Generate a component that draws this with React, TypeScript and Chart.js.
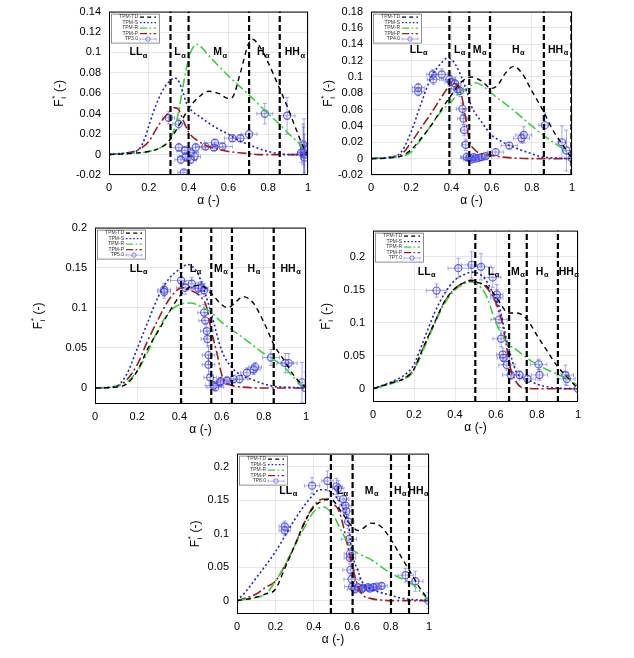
import React, { useEffect, useRef } from 'react';
import { Chart, registerables } from 'chart.js';
Chart.register(...registerables);

const FONT = '"Liberation Sans", Arial, sans-serif';
const X_TICKS = [0, 0.2, 0.4, 0.6, 0.8, 1];
const LEG_NAMES = ['TPM-TD', 'TPM-S', 'TPM-R', 'TPM-P'];
const REGION_NAMES = ['LL', 'L', 'M', 'H', 'HH'];

// ---------- Panel 1 : TP3.0 ----------
const Y1_TICKS = [-0.02, 0, 0.02, 0.04, 0.06, 0.08, 0.1, 0.12, 0.14];
const TD1 = [[0,0],[0.1,0.001],[0.2,0.003],[0.25,0.006],[0.3,0.013],[0.35,0.028],[0.4,0.045],[0.45,0.056],[0.5,0.062],[0.55,0.06],[0.6,0.055],[0.62,0.056],[0.66,0.08],[0.7,0.108],[0.72,0.113],[0.76,0.105],[0.8,0.09],[0.85,0.068],[0.9,0.045],[0.95,0.02],[0.98,0.006],[1,0]];
const S1 = [[0,0],[0.1,0.002],[0.15,0.005],[0.18,0.016],[0.2,0.028],[0.22,0.04],[0.25,0.055],[0.28,0.066],[0.3,0.071],[0.33,0.075],[0.35,0.072],[0.37,0.062],[0.39,0.05],[0.42,0.042],[0.45,0.038],[0.5,0.031],[0.55,0.025],[0.6,0.02],[0.65,0.014],[0.7,0.01],[0.75,0.006],[0.8,0.003],[0.85,0.001],[0.9,0],[1,0]];
const R1 = [[0,0],[0.1,0.001],[0.2,0.003],[0.25,0.006],[0.3,0.013],[0.33,0.026],[0.35,0.042],[0.37,0.065],[0.39,0.085],[0.41,0.1],[0.44,0.108],[0.5,0.097],[0.6,0.077],[0.7,0.059],[0.8,0.04],[0.85,0.031],[0.9,0.021],[0.95,0.012],[0.98,0.006],[1,0.004]];
const PP1 = [[0,0],[0.1,0.002],[0.15,0.005],[0.2,0.013],[0.25,0.029],[0.3,0.041],[0.33,0.046],[0.35,0.044],[0.37,0.035],[0.4,0.022],[0.45,0.013],[0.5,0.008],[0.55,0.005],[0.6,0.003],[0.7,0.001],[0.75,0],[1,0]];
const PTS1 = [[0.30,0.036,0.03,0.006],[0.35,0.030,0.03,0.005],[0.351,0.007,0.04,0.004],[0.381,0.004,0.04,0.004],[0.41,0.002,0.04,0.004],[0.436,0.007,0.03,0.004],[0.361,-0.005,0.03,0.004],[0.386,-0.0025,0.04,0.004],[0.41,-0.005,0.03,0.004],[0.43,-0.002,0.03,0.004],[0.376,-0.0175,0.03,0.002],[0.485,0.0078,0.05,0.003],[0.532,0.0116,0.05,0.003],[0.528,0.0069,0.05,0.003],[0.57,0.0078,0.05,0.003],[0.62,0.016,0.04,0.003],[0.66,0.016,0.04,0.003],[0.704,0.02,0.04,0.004],[0.783,0.04,0.04,0.01],[0.895,0.038,0.04,0.018],[0.975,0.01,0.01,0.02],[0.978,0.002,0.02,0.025],[0.983,0,0.01,0.02],[0.967,0.002,0.02,0.01],[0.983,-0.003,0.02,0.015],[0.98,0.005,0.01,0.03]];
const VL1 = [0.309, 0.4, 0.704, 0.858];
const RX1 = [0.147, 0.356, 0.557, 0.774, 0.933];

// ---------- Panel 2 : TP4.0 ----------
const Y2_TICKS = [-0.02, 0, 0.02, 0.04, 0.06, 0.08, 0.1, 0.12, 0.14, 0.16, 0.18];
const TD2 = [[0,0],[0.1,0.001],[0.15,0.003],[0.2,0.011],[0.25,0.025],[0.3,0.041],[0.35,0.06],[0.4,0.078],[0.45,0.094],[0.5,0.1],[0.55,0.095],[0.6,0.086],[0.63,0.09],[0.67,0.105],[0.71,0.113],[0.75,0.105],[0.8,0.083],[0.86,0.057],[0.9,0.037],[0.95,0.018],[1,0]];
const S2 = [[0,0],[0.1,0.002],[0.15,0.008],[0.2,0.033],[0.25,0.068],[0.3,0.1],[0.35,0.117],[0.38,0.123],[0.41,0.119],[0.45,0.1],[0.48,0.08],[0.5,0.064],[0.55,0.045],[0.6,0.029],[0.65,0.021],[0.7,0.015],[0.8,0.006],[0.85,0.002],[0.9,0.001],[1,0]];
const R2 = [[0,0],[0.1,0.002],[0.15,0.003],[0.2,0.008],[0.25,0.024],[0.3,0.041],[0.35,0.058],[0.4,0.07],[0.45,0.083],[0.48,0.086],[0.5,0.09],[0.52,0.093],[0.55,0.09],[0.6,0.08],[0.7,0.061],[0.8,0.04],[0.9,0.021],[0.95,0.013],[0.97,0.009],[1,0]];
const PP2 = [[0,0],[0.1,0.002],[0.15,0.005],[0.2,0.02],[0.25,0.038],[0.3,0.056],[0.35,0.075],[0.38,0.086],[0.41,0.092],[0.43,0.09],[0.45,0.078],[0.47,0.05],[0.49,0.022],[0.52,0.01],[0.55,0.006],[0.6,0.004],[0.65,0.002],[0.7,0.001],[0.8,0],[1,0]];
const PTS2 = [[0.235,0.087,0.03,0.005],[0.235,0.082,0.03,0.005],[0.307,0.103,0.03,0.006],[0.31,0.097,0.03,0.006],[0.352,0.103,0.03,0.007],[0.39,0.097,0.03,0.008],[0.398,0.094,0.03,0.008],[0.418,0.092,0.03,0.008],[0.43,0.085,0.03,0.007],[0.443,0.083,0.03,0.007],[0.455,0.061,0.03,0.007],[0.46,0.049,0.03,0.007],[0.464,0.035,0.02,0.007],[0.471,0.017,0.02,0.007],[0.476,0.002,0.03,0.005],[0.49,0.001,0.04,0.004],[0.5,-0.001,0.04,0.003],[0.51,0.002,0.04,0.003],[0.52,0,0.04,0.003],[0.535,0.001,0.04,0.003],[0.55,0.002,0.03,0.003],[0.57,0.003,0.03,0.003],[0.62,0.008,0.04,0.004],[0.688,0.016,0.04,0.004],[0.749,0.025,0.04,0.006],[0.76,0.029,0.04,0.01],[0.865,0.041,0.03,0.015],[0.95,0.02,0.02,0.02],[0.972,0.01,0.02,0.025],[1.0,0,0.02,0.01]];
const VL2 = [0.39, 0.489, 0.592, 0.86, 0.997];
const RX2 = [0.236, 0.44, 0.539, 0.732, 0.93];

// ---------- Panel 3 : TP5.0 ----------
const Y3_TICKS = [0, 0.05, 0.1, 0.15, 0.2];
const TD3 = [[0,0],[0.1,0.001],[0.15,0.005],[0.2,0.021],[0.25,0.049],[0.3,0.071],[0.35,0.094],[0.4,0.114],[0.45,0.126],[0.5,0.128],[0.55,0.118],[0.6,0.104],[0.63,0.1],[0.67,0.108],[0.7,0.114],[0.75,0.106],[0.8,0.082],[0.85,0.053],[0.9,0.033],[0.95,0.013],[1,0]];
const S3 = [[0,0],[0.1,0.002],[0.15,0.017],[0.2,0.049],[0.25,0.082],[0.3,0.114],[0.35,0.136],[0.4,0.148],[0.44,0.154],[0.48,0.146],[0.5,0.135],[0.55,0.094],[0.6,0.047],[0.65,0.025],[0.7,0.015],[0.75,0.01],[0.8,0.005],[0.85,0.002],[0.9,0.001],[1,0]];
const R3 = [[0,0],[0.1,0.002],[0.15,0.007],[0.2,0.021],[0.25,0.045],[0.3,0.073],[0.35,0.094],[0.4,0.104],[0.45,0.106],[0.5,0.102],[0.55,0.094],[0.6,0.082],[0.7,0.063],[0.8,0.043],[0.85,0.035],[0.9,0.025],[0.95,0.011],[0.98,0.004],[1,0]];
const PP3 = [[0,0],[0.1,0.002],[0.15,0.01],[0.2,0.029],[0.25,0.059],[0.3,0.086],[0.35,0.11],[0.4,0.124],[0.42,0.125],[0.45,0.122],[0.5,0.114],[0.53,0.1],[0.55,0.073],[0.58,0.041],[0.6,0.017],[0.62,0.007],[0.65,0.003],[0.7,0.001],[0.8,0],[1,0]];
const PTS3 = [[0.328,0.1225,0.03,0.008],[0.328,0.12,0.03,0.008],[0.408,0.134,0.05,0.01],[0.427,0.125,0.04,0.008],[0.459,0.13,0.04,0.008],[0.49,0.124,0.04,0.008],[0.506,0.125,0.03,0.008],[0.517,0.122,0.03,0.008],[0.517,0.094,0.03,0.01],[0.522,0.084,0.03,0.01],[0.53,0.071,0.03,0.01],[0.533,0.061,0.03,0.01],[0.538,0.041,0.03,0.012],[0.538,0.029,0.03,0.012],[0.546,0.013,0.03,0.008],[0.562,0.003,0.04,0.005],[0.57,0.001,0.04,0.005],[0.593,0.007,0.04,0.005],[0.595,0.0085,0.05,0.005],[0.625,0.009,0.04,0.005],[0.657,0.011,0.04,0.005],[0.685,0.011,0.04,0.005],[0.72,0.019,0.03,0.006],[0.752,0.023,0.03,0.006],[0.759,0.026,0.03,0.006],[0.834,0.038,0.04,0.01],[0.902,0.031,0.04,0.012],[0.918,0.031,0.04,0.012],[0.981,0.007,0.02,0.025],[0.997,0,0.01,0.02]];
const VL3 = [0.408, 0.551, 0.649, 0.847];
const RX3 = [0.206, 0.475, 0.596, 0.752, 0.926];

// ---------- Panel 4 : TP7.0 ----------
const Y4_TICKS = [0, 0.05, 0.1, 0.15, 0.2];
const TD4 = [[0,0],[0.1,0.01],[0.15,0.015],[0.18,0.022],[0.2,0.03],[0.25,0.066],[0.3,0.1],[0.35,0.133],[0.4,0.152],[0.45,0.162],[0.48,0.164],[0.5,0.162],[0.55,0.157],[0.6,0.14],[0.63,0.125],[0.66,0.115],[0.7,0.115],[0.75,0.106],[0.8,0.081],[0.85,0.057],[0.9,0.034],[0.95,0.017],[1,0]];
const S4 = [[0,0],[0.1,0.012],[0.15,0.02],[0.18,0.028],[0.2,0.037],[0.25,0.076],[0.3,0.115],[0.35,0.145],[0.4,0.165],[0.45,0.174],[0.48,0.177],[0.52,0.174],[0.55,0.165],[0.6,0.135],[0.62,0.12],[0.65,0.076],[0.68,0.042],[0.7,0.025],[0.75,0.015],[0.8,0.007],[0.85,0.003],[0.9,0.001],[1,0]];
const R4 = [[0,0],[0.1,0.009],[0.15,0.015],[0.18,0.02],[0.2,0.028],[0.25,0.062],[0.3,0.098],[0.35,0.13],[0.4,0.15],[0.45,0.16],[0.47,0.162],[0.5,0.16],[0.55,0.143],[0.6,0.1],[0.65,0.071],[0.7,0.059],[0.75,0.047],[0.8,0.037],[0.85,0.029],[0.9,0.022],[0.95,0.015],[1,0.005]];
const PP4 = [[0,0],[0.1,0.01],[0.15,0.016],[0.18,0.022],[0.2,0.03],[0.25,0.065],[0.3,0.1],[0.35,0.132],[0.4,0.152],[0.45,0.162],[0.48,0.165],[0.52,0.16],[0.55,0.155],[0.6,0.13],[0.63,0.1],[0.65,0.066],[0.67,0.032],[0.7,0.01],[0.72,0.003],[0.75,0.001],[0.8,0],[1,0]];
const PTS4 = [[0.31,0.149,0.05,0.01],[0.416,0.183,0.05,0.015],[0.481,0.188,0.05,0.02],[0.527,0.185,0.05,0.02],[0.584,0.169,0.04,0.015],[0.604,0.143,0.03,0.015],[0.604,0.138,0.03,0.012],[0.615,0.105,0.04,0.012],[0.625,0.076,0.04,0.012],[0.633,0.052,0.03,0.01],[0.636,0.047,0.03,0.01],[0.653,0.036,0.04,0.008],[0.672,0.021,0.04,0.007],[0.715,0.021,0.04,0.006],[0.754,0.015,0.04,0.005],[0.808,0.037,0.04,0.008],[0.812,0.021,0.04,0.008],[0.938,0.021,0.04,0.015],[0.946,0.015,0.04,0.01],[1.0,0,0.02,0.005]];
const VL4 = [0.499, 0.664, 0.75, 0.902];
const RX4 = [0.261, 0.587, 0.706, 0.824, 0.954];

// ---------- Panel 5 : TP8.0 ----------
const Y5_TICKS = [0, 0.05, 0.1, 0.15, 0.2];
const TD5 = [[0,0],[0.1,0.005],[0.15,0.01],[0.2,0.017],[0.25,0.049],[0.3,0.082],[0.35,0.116],[0.4,0.14],[0.45,0.15],[0.48,0.152],[0.5,0.15],[0.55,0.13],[0.6,0.111],[0.63,0.105],[0.65,0.107],[0.7,0.116],[0.75,0.111],[0.8,0.092],[0.85,0.068],[0.9,0.044],[0.95,0.02],[1,0]];
const S5 = [[0,0],[0.05,0.015],[0.1,0.034],[0.15,0.053],[0.2,0.073],[0.25,0.097],[0.3,0.121],[0.35,0.142],[0.4,0.159],[0.43,0.166],[0.46,0.166],[0.5,0.16],[0.55,0.14],[0.58,0.115],[0.6,0.07],[0.63,0.045],[0.65,0.029],[0.7,0.017],[0.75,0.012],[0.8,0.008],[0.85,0.004],[0.9,0.002],[1,0]];
const R5 = [[0,0],[0.1,0.005],[0.15,0.01],[0.2,0.029],[0.25,0.053],[0.3,0.082],[0.35,0.109],[0.4,0.133],[0.45,0.14],[0.5,0.128],[0.55,0.101],[0.6,0.077],[0.65,0.068],[0.7,0.061],[0.75,0.051],[0.8,0.041],[0.85,0.034],[0.9,0.027],[0.95,0.015],[1,0]];
const PP5 = [[0,0],[0.1,0.01],[0.15,0.02],[0.2,0.029],[0.25,0.053],[0.3,0.082],[0.35,0.116],[0.4,0.142],[0.45,0.152],[0.5,0.145],[0.53,0.135],[0.55,0.116],[0.58,0.077],[0.6,0.053],[0.62,0.03],[0.65,0.01],[0.7,0.003],[0.75,0.001],[0.8,0],[1,0]];
const PTS5 = [[0.249,0.111,0.03,0.008],[0.249,0.105,0.03,0.008],[0.391,0.172,0.04,0.012],[0.471,0.179,0.03,0.015],[0.518,0.171,0.03,0.012],[0.527,0.168,0.03,0.012],[0.553,0.152,0.03,0.01],[0.565,0.142,0.03,0.01],[0.57,0.134,0.03,0.01],[0.579,0.118,0.03,0.01],[0.583,0.092,0.04,0.01],[0.588,0.07,0.03,0.008],[0.588,0.064,0.03,0.008],[0.591,0.046,0.04,0.008],[0.597,0.032,0.04,0.006],[0.6,0.021,0.04,0.004],[0.63,0.02,0.04,0.004],[0.657,0.019,0.04,0.004],[0.683,0.02,0.04,0.004],[0.71,0.02,0.04,0.004],[0.727,0.021,0.04,0.004],[0.753,0.022,0.03,0.004],[0.614,0.017,0.04,0.004],[0.649,0.017,0.04,0.004],[0.692,0.018,0.04,0.004],[0.878,0.038,0.04,0.01],[0.929,0.029,0.04,0.015],[0.997,0,0.02,0.012]];
const VL5 = [0.489, 0.602, 0.802, 0.896];
const RX5 = [0.266, 0.548, 0.70, 0.849, 0.944];

const STY = {
  td: { color: '#000000', dash: [5, 4], width: 1.4 },
  s: { color: '#2222cc', dash: [2, 2.5], width: 1.6 },
  r: { color: '#3ad23a', dash: [9, 3, 2, 3], width: 1.6 },
  p: { color: '#a01e1e', dash: [9, 3, 2, 3], width: 1.6 },
};
const PT_COLOR = 'rgba(60,60,220,0.8)';
const ERR_COLOR = 'rgba(80,80,225,0.55)';

const PANELS = [
  { name: 'TP3.0', L: 109, R: 308, T: 5, B: 175, yMin: -0.02, yMax: 0.14, yTicks: Y1_TICKS, td: TD1, s: S1, r: R1, p: PP1, pts: PTS1, vl: VL1, rx: RX1, ry: 0.1, yTitleDx: 49 },
  { name: 'TP4.0', L: 371, R: 572, T: 5, B: 175, yMin: -0.02, yMax: 0.18, yTicks: Y2_TICKS, td: TD2, s: S2, r: R2, p: PP2, pts: PTS2, vl: VL2, rx: RX2, ry: 0.133, yTitleDx: 42 },
  { name: 'TP5.0', L: 95, R: 306, T: 221, B: 404, yMin: -0.02, yMax: 0.2, yTicks: Y3_TICKS, td: TD3, s: S3, r: R3, p: PP3, pts: PTS3, vl: VL3, rx: RX3, ry: 0.148, yTitleDx: 56 },
  { name: 'TP7.0', L: 373, R: 578, T: 224, B: 402, yMin: -0.02, yMax: 0.24, yTicks: Y4_TICKS, td: TD4, s: S4, r: R4, p: PP4, pts: PTS4, vl: VL4, rx: RX4, ry: 0.177, yTitleDx: 46 },
  { name: 'TP8.0', L: 237, R: 429, T: 447, B: 614, yMin: -0.02, yMax: 0.22, yTicks: Y5_TICKS, td: TD5, s: S5, r: R5, p: PP5, pts: PTS5, vl: VL5, rx: RX5, ry: 0.164, yTitleDx: 41 },
];

const PAD_L = 70, PAD_T = 8, PAD_R = 14, PAD_B = 36;

function toXY(arr: number[][]) {
  return arr.map((d) => ({ x: d[0], y: d[1] }));
}

function drawYTitle(ctx: CanvasRenderingContext2D, x: number, y: number) {
  ctx.save();
  ctx.translate(x, y);
  ctx.rotate(-Math.PI / 2);
  const big = `12px ${FONT}`;
  const small = `8px ${FONT}`;
  ctx.font = big;
  const wF = ctx.measureText('F').width;
  const wRest = ctx.measureText(' (-)').width;
  ctx.font = small;
  const wS = Math.max(ctx.measureText('i').width, ctx.measureText('*').width);
  const total = wF + wS + 1 + wRest;
  let cx = -total / 2;
  ctx.fillStyle = '#000';
  ctx.textBaseline = 'middle';
  ctx.textAlign = 'left';
  ctx.font = big;
  ctx.fillText('F', cx, 0);
  cx += wF;
  ctx.font = small;
  ctx.fillText('i', cx + 0.5, 4);
  ctx.fillText('*', cx + 0.5, -5);
  cx += wS + 1;
  ctx.font = big;
  ctx.fillText(' (-)', cx, 0);
  ctx.restore();
}

function drawRegion(ctx: CanvasRenderingContext2D, base: string, x: number, y: number) {
  ctx.save();
  ctx.fillStyle = '#000';
  ctx.textBaseline = 'middle';
  ctx.textAlign = 'left';
  ctx.font = `bold 10.5px ${FONT}`;
  const w1 = ctx.measureText(base).width;
  ctx.font = `bold 7.5px ${FONT}`;
  const w2 = ctx.measureText('α').width;
  const sx = x - (w1 + w2) / 2;
  ctx.font = `bold 10.5px ${FONT}`;
  ctx.fillText(base, sx, y);
  ctx.font = `bold 7.5px ${FONT}`;
  ctx.fillText('α', sx + w1 + 0.5, y + 3);
  ctx.restore();
}

function Panel({ cfg }: { cfg: any }) {
  const ref = useRef<HTMLCanvasElement>(null);
  const w = cfg.R - cfg.L + PAD_L + PAD_R;
  const h = cfg.B - cfg.T + PAD_T + PAD_B;

  useEffect(() => {
    const curve = (label: string, data: number[][], st: any) => ({
      label,
      data: toXY(data),
      showLine: true,
      borderColor: st.color,
      backgroundColor: st.color,
      borderWidth: st.width,
      borderDash: st.dash,
      pointRadius: 0,
      cubicInterpolationMode: 'monotone',
      fill: false,
    });
    const vlines = cfg.vl.map((v: number) => ({
      label: 'v',
      data: [{ x: v, y: cfg.yMin }, { x: v, y: cfg.yMax }],
      showLine: true,
      borderColor: '#000',
      borderWidth: 2.2,
      borderDash: [6, 3],
      pointRadius: 0,
      fill: false,
    }));
    const ptsDs = {
      label: cfg.name,
      data: cfg.pts.map((d: number[]) => ({ x: d[0], y: d[1] })),
      showLine: false,
      pointRadius: 3.6,
      pointBorderWidth: 1.1,
      pointBorderColor: PT_COLOR,
      pointBackgroundColor: 'rgba(140,140,255,0.15)',
      borderColor: PT_COLOR,
      backgroundColor: 'rgba(140,140,255,0.15)',
    };

    const deco = {
      id: 'deco',
      beforeDatasetsDraw(chart: any) {
        const ctx = chart.ctx;
        const ca = chart.chartArea;
        const xs = chart.scales.x, ys = chart.scales.y;
        ctx.save();
        ctx.beginPath();
        ctx.rect(ca.left, ca.top, ca.right - ca.left, ca.bottom - ca.top);
        ctx.clip();
        ctx.strokeStyle = ERR_COLOR;
        ctx.lineWidth = 0.9;
        cfg.pts.forEach((d: number[]) => {
          const px = xs.getPixelForValue(d[0]);
          const py = ys.getPixelForValue(d[1]);
          const x0 = xs.getPixelForValue(d[0] - d[2]);
          const x1 = xs.getPixelForValue(d[0] + d[2]);
          const y0 = ys.getPixelForValue(d[1] - d[3]);
          const y1 = ys.getPixelForValue(d[1] + d[3]);
          ctx.beginPath();
          ctx.moveTo(x0, py); ctx.lineTo(x1, py);
          ctx.moveTo(x0, py - 2); ctx.lineTo(x0, py + 2);
          ctx.moveTo(x1, py - 2); ctx.lineTo(x1, py + 2);
          ctx.moveTo(px, y0); ctx.lineTo(px, y1);
          ctx.moveTo(px - 2, y0); ctx.lineTo(px + 2, y0);
          ctx.moveTo(px - 2, y1); ctx.lineTo(px + 2, y1);
          ctx.stroke();
        });
        ctx.restore();
      },
      afterDraw(chart: any) {
        const ctx = chart.ctx;
        const ca = chart.chartArea;
        const xs = chart.scales.x, ys = chart.scales.y;
        // border
        ctx.save();
        ctx.strokeStyle = '#000';
        ctx.lineWidth = 1;
        ctx.strokeRect(ca.left + 0.5, ca.top + 0.5, ca.right - ca.left - 1, ca.bottom - ca.top - 1);
        ctx.restore();
        // region labels
        REGION_NAMES.forEach((n, i) => {
          drawRegion(ctx, n, xs.getPixelForValue(cfg.rx[i]), ys.getPixelForValue(cfg.ry));
        });
        // legend
        const lx = ca.left + 2, ly = ca.top + 2, lw = 48, lh = 29;
        ctx.save();
        ctx.fillStyle = '#fff';
        ctx.fillRect(lx, ly, lw, lh);
        ctx.strokeStyle = '#777';
        ctx.lineWidth = 0.8;
        ctx.strokeRect(lx + 0.5, ly + 0.5, lw, lh);
        const names = [...LEG_NAMES, cfg.name];
        const styles = [STY.td, STY.s, STY.r, STY.p];
        names.forEach((n, i) => {
          const yy = ly + 3.5 + i * 5.5;
          ctx.fillStyle = '#333';
          ctx.font = `5px ${FONT}`;
          ctx.textAlign = 'right';
          ctx.textBaseline = 'middle';
          ctx.fillText(n, lx + 27, yy);
          ctx.beginPath();
          if (i < 4) {
            const st = styles[i];
            ctx.strokeStyle = st.color;
            ctx.lineWidth = 1.3;
            ctx.setLineDash(st.dash.map((v: number) => v * 0.8));
            ctx.moveTo(lx + 29, yy);
            ctx.lineTo(lx + 45, yy);
            ctx.stroke();
          } else {
            ctx.setLineDash([]);
            ctx.strokeStyle = ERR_COLOR;
            ctx.lineWidth = 0.8;
            ctx.moveTo(lx + 29, yy);
            ctx.lineTo(lx + 45, yy);
            ctx.moveTo(lx + 29, yy - 1.5); ctx.lineTo(lx + 29, yy + 1.5);
            ctx.moveTo(lx + 45, yy - 1.5); ctx.lineTo(lx + 45, yy + 1.5);
            ctx.stroke();
            ctx.beginPath();
            ctx.strokeStyle = PT_COLOR;
            ctx.arc(lx + 37, yy, 2.2, 0, Math.PI * 2);
            ctx.stroke();
          }
          ctx.setLineDash([]);
        });
        ctx.restore();
        // axis titles
        ctx.save();
        ctx.fillStyle = '#000';
        ctx.font = `12px ${FONT}`;
        ctx.textAlign = 'center';
        ctx.textBaseline = 'middle';
        ctx.fillText('α (-)', (ca.left + ca.right) / 2, ca.bottom + 26);
        ctx.restore();
        drawYTitle(ctx, ca.left - cfg.yTitleDx, (ca.top + ca.bottom) / 2);
      },
    };

    const chart = new Chart(ref.current as HTMLCanvasElement, {
      type: 'scatter',
      data: {
        datasets: [
          ...vlines,
          curve('TPM-TD', cfg.td, STY.td),
          curve('TPM-S', cfg.s, STY.s),
          curve('TPM-R', cfg.r, STY.r),
          curve('TPM-P', cfg.p, STY.p),
          ptsDs,
        ] as any,
      },
      options: {
        animation: false,
        responsive: false,
        maintainAspectRatio: false,
        layout: { padding: { top: PAD_T, right: PAD_R, left: 0, bottom: 0 } },
        plugins: { legend: { display: false }, tooltip: { enabled: false } },
        scales: {
          x: {
            type: 'linear',
            min: 0,
            max: 1,
            afterBuildTicks: (s: any) => { s.ticks = X_TICKS.map((v) => ({ value: v })); },
            afterFit: (s: any) => { s.height = PAD_B; },
            ticks: { font: { family: FONT, size: 11 }, color: '#000', padding: 6, callback: (v: any) => String(v), maxRotation: 0, autoSkip: false },
            grid: { color: 'rgba(0,0,0,0.09)', drawTicks: false },
            border: { display: false },
          },
          y: {
            type: 'linear',
            min: cfg.yMin,
            max: cfg.yMax,
            afterBuildTicks: (s: any) => { s.ticks = cfg.yTicks.map((v: number) => ({ value: v })); },
            afterFit: (s: any) => { s.width = PAD_L; },
            ticks: { font: { family: FONT, size: 11 }, color: '#000', padding: 8, callback: (v: any) => String(v), autoSkip: false },
            grid: { color: 'rgba(0,0,0,0.09)', drawTicks: false },
            border: { display: false },
          },
        },
      } as any,
      plugins: [deco],
    });
    return () => chart.destroy();
  }, []);

  return (
    <canvas
      ref={ref}
      width={w}
      height={h}
      style={{ position: 'absolute', left: cfg.L - PAD_L, top: cfg.T - PAD_T, width: w, height: h }}
    />
  );
}

export default function App() {
  return (
    <div style={{ position: 'absolute', left: 0, top: 0, width: 634, height: 658, background: '#fff', overflow: 'hidden' }}>
      {PANELS.map((p) => (
        <Panel key={p.name} cfg={p} />
      ))}
    </div>
  );
}
